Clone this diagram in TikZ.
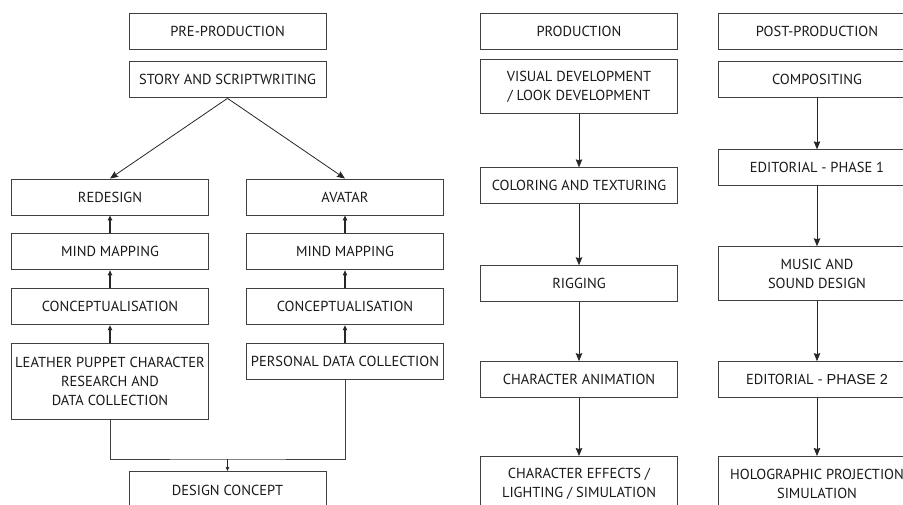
\documentclass[tikz,border=0pt]{standalone}
\usepackage{fontspec}
\setmainfont{PT Sans}
\newfontfamily\arialfont{Liberation Sans}
\usetikzlibrary{
	arrows.meta,
	positioning
}

\begin{document}
\begin{tikzpicture}[
			x=1pt, y=-1pt,
			font=\fontsize{14.5}{19}\selectfont,
			stage/.style={draw=black!75, line width=0.9pt, minimum width=197pt, minimum height=36pt, align=center, text=black!90, inner sep=1pt},
			tall/.style={stage, minimum height=54pt},
			fl/.style={-{Stealth[length=8pt, width=6.5pt, inset=1pt]}, line width=0.8pt, draw=black!85},
			up/.style={-{Stealth[length=5pt, width=4.5pt, inset=0.5pt]}, line width=1.2pt, draw=black!85},
			tiny/.style={-{Stealth[length=4pt, width=3.5pt, inset=0.5pt]}, line width=0.8pt, draw=black!85},
			ln/.style={line width=1pt, draw=black!75}
		]

		\useasboundingbox (0,0) rectangle (903,505);

		% pre-production
		\node[stage] (pre) at (227.5,31) {PRE-PRODUCTION};
		\node[stage, below=12pt of pre] (story) {STORY AND SCRIPTWRITING};

		\node[stage] (redesign) at (110,197) {REDESIGN};
		\node[stage, below=18pt of redesign] (mindl) {MIND MAPPING};
		\node[stage, below=18pt of mindl] (concl) {CONCEPTUALISATION};
		\node[stage, minimum height=76pt, below=18pt of concl] (leather) {LEATHER PUPPET CHARACTER\\ RESEARCH AND\\ DATA COLLECTION};

		\node[stage] (avatar) at (345,197) {AVATAR};
		\node[stage, below=18pt of avatar] (mindr) {MIND MAPPING};
		\node[stage, below=18pt of mindr] (concr) {CONCEPTUALISATION};
		\node[stage, below=18pt of concr] (personal) {PERSONAL DATA COLLECTION};

		\coordinate (join) at (227.5,459);
		\node[stage, minimum height=38pt, anchor=north] (design) at (227.5,471) {DESIGN CONCEPT};

		% production
		\node[stage] (prod) at (579,31) {PRODUCTION};
		\node[tall, below=10pt of prod] (visual) {VISUAL DEVELOPMENT\\ / LOOK DEVELOPMENT};
		\node[stage, below=53pt of visual] (color) {COLORING AND TEXTURING};
		\node[stage, below=61pt of color] (rig) {RIGGING};
		\node[stage, below=59pt of rig] (anim) {CHARACTER ANIMATION};
		\node[tall, below=58pt of anim] (effects) {CHARACTER EFFECTS /\\ LIGHTING / SIMULATION};

		% post-production
		\node[stage] (post) at (817,31) {POST-PRODUCTION};
		\node[stage, below=12pt of post] (comp) {COMPOSITING};
		\node[stage, below=51pt of comp] (ed1) {EDITORIAL - PHASE 1};
		\node[tall, below=60pt of ed1] (music) {MUSIC AND\\ SOUND DESIGN};
		\node[stage, below=60pt of music] (ed2) {EDITORIAL - {\arialfont PHASE 2}};
		\node[tall, below=58pt of ed2] (holo) {HOLOGRAPHIC PROJECTION\\ SIMULATION};

		\draw[fl] (story.south) -- (redesign.north);
		\draw[fl] (story.south) -- (avatar.north);
		\draw[up] (mindl) -- (redesign);
		\draw[up] (concl) -- (mindl);
		\draw[up] (leather) -- (concl);
		\draw[up] (mindr) -- (avatar);
		\draw[up] (concr) -- (mindr);
		\draw[up] (personal) -- (concr);
		\draw[ln] (leather.south) |- (join) -| (personal.south);
		\draw[tiny] (join) -- (design);

		\draw[fl] (visual) -- (color);
		\draw[fl] (color) -- (rig);
		\draw[fl] (rig) -- (anim);
		\draw[fl] (anim) -- (effects);

		\draw[fl] (comp) -- (ed1);
		\draw[fl] (ed1) -- (music);
		\draw[fl] (music) -- (ed2);
		\draw[fl] (ed2) -- (holo);
	\end{tikzpicture}
\end{document}
